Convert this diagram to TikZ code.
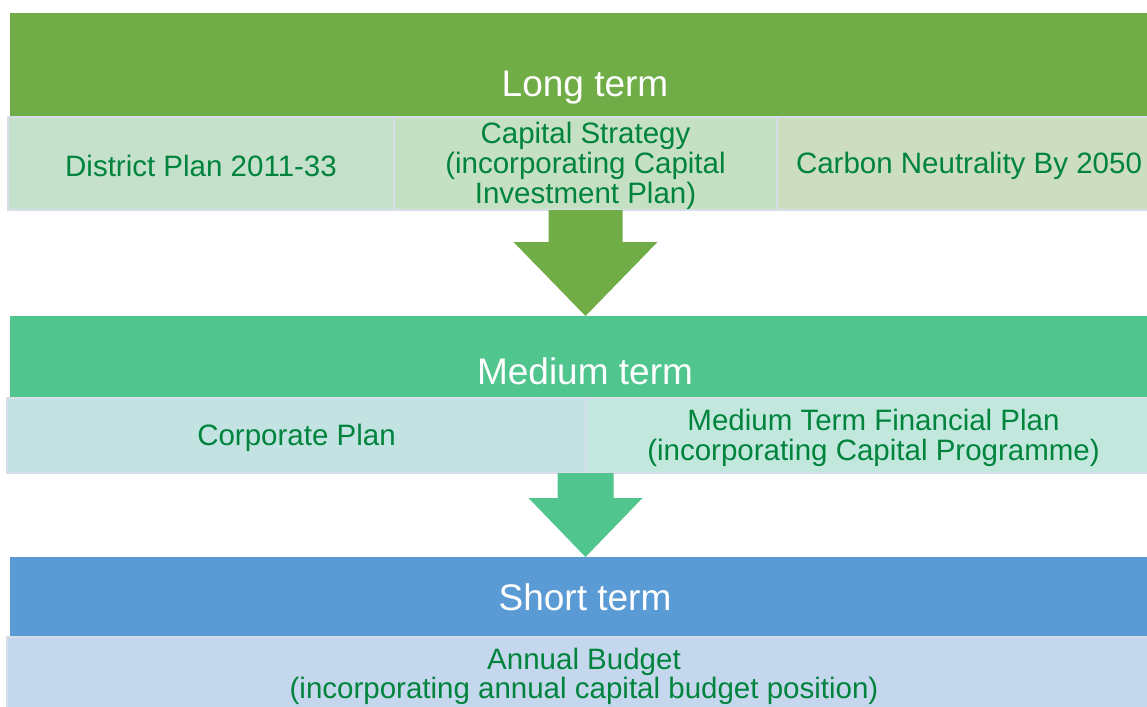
\documentclass[tikz,border=0pt]{standalone}
\usepackage{fontspec}
\setmainfont{Liberation Sans}
\usetikzlibrary{calc}
\definecolor{ltgreen}{RGB}{112,173,71}
\definecolor{mdgreen}{RGB}{80,198,142}
\definecolor{stblue}{RGB}{91,155,213}
\definecolor{txtgreen}{RGB}{0,132,61}
\definecolor{cellA}{RGB}{197,224,203}
\definecolor{cellB}{RGB}{198,224,195}
\definecolor{cellC}{RGB}{204,221,192}
\definecolor{cellD}{RGB}{195,227,226}
\definecolor{cellE}{RGB}{194,232,221}
\definecolor{cellF}{RGB}{197,215,236}
\definecolor{edge}{RGB}{214,222,234}
\begin{document}
\begin{tikzpicture}[x=1pt,y=-1pt,
  bar/.style={anchor=north west, inner sep=0pt, outer sep=0pt, minimum width=1151pt},
  cell/.style={anchor=north west, draw=edge, line width=2pt, inner sep=0pt, outer sep=0pt},
  celltext/.style={text=txtgreen, align=center, inner sep=0pt, font=\fontsize{29.5}{29.7}\selectfont},
  title/.style={anchor=base, text=white, inner sep=0pt, font=\fontsize{37}{40}\selectfont},
]
\useasboundingbox[fill=white] (0,0) rectangle (1147,706);

% Long term
\node[bar, fill=ltgreen, minimum height=104pt] (lt) at (10,13) {};
\node[title] (ltt) at (585,97) {Long term};
\node[cell, fill=cellA, minimum width=386pt, minimum height=93pt] (dp) at (8,117) {};
\node[cell, fill=cellB, minimum width=383pt, minimum height=93pt] (cap) at (394,117) {};
\node[cell, fill=cellC, minimum width=384pt, minimum height=93pt] (cn) at (777,117) {};
\node[celltext] (dpt) at ($(dp.center)+(0,2.5)$) {District Plan 2011-33};
\node[celltext] (capt) at ($(cap.center)+(0,2.5)$) {Capital Strategy\\(incorporating Capital\\Investment Plan)};
\node[celltext] (cnt) at ($(cn.center)+(0,2.5)$) {Carbon Neutrality By 2050};

% Medium term
\node[bar, fill=mdgreen, minimum height=82pt] (md) at (10,316) {};
\node[title] (mdt) at (585,384) {Medium term};
\node[cell, fill=cellD, minimum width=579pt, minimum height=75pt] (cp) at (7,398) {};
\node[cell, fill=cellE, minimum width=575pt, minimum height=75pt] (mtfp) at (586,398) {};
\node[celltext] (cpt) at ($(cp.center)+(0,2.5)$) {Corporate Plan};
\node[celltext] (mtfpt) at ($(mtfp.center)+(0,2.5)$) {Medium Term Financial Plan\\(incorporating Capital Programme)};

% Short term
\node[bar, fill=stblue, minimum height=80pt] (st) at (10,557) {};
\node[title] (stt) at (585,610) {Short term};
\node[cell, fill=cellF, minimum width=1154pt, minimum height=76pt] (ab) at (7,637) {};
\node[celltext] (abt) at ($(ab.center)+(0,1.5)$) {Annual Budget\\(incorporating annual capital budget position)};

% block arrows
\coordinate (a1) at (cap.south -| md.north);
\fill[ltgreen] ($(a1)+(-37,0)$) -- ($(a1)+(37,0)$) -- ($(a1)+(37,32)$) -- ($(a1)+(72,32)$)
  -- (md.north) -- ($(a1)+(-72,32)$) -- ($(a1)+(-37,32)$) -- cycle;
\coordinate (a2) at (cp.south east -| st.north);
\fill[mdgreen] ($(a2)+(-28,0)$) -- ($(a2)+(28,0)$) -- ($(a2)+(28,25)$) -- ($(a2)+(57,25)$)
  -- (st.north) -- ($(a2)+(-57,25)$) -- ($(a2)+(-28,25)$) -- cycle;
\end{tikzpicture}
\end{document}
